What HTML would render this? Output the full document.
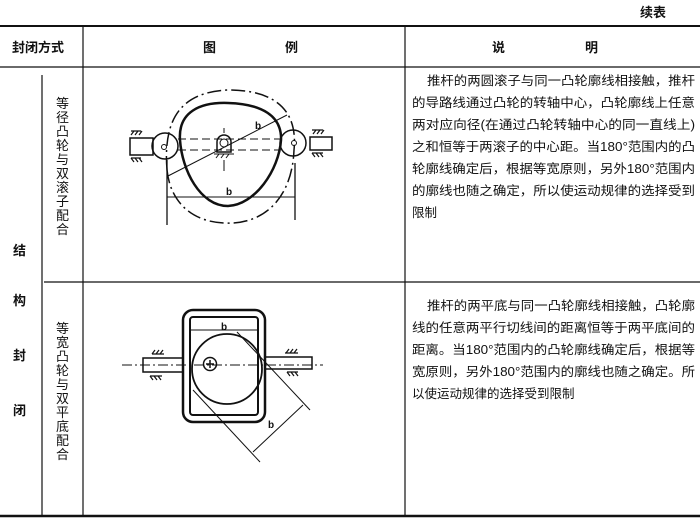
<!DOCTYPE html>
<html><head><meta charset="utf-8"><style>
html,body{margin:0;padding:0;background:#fff;}
svg{display:block;}
text{font-family:"Liberation Sans","Noto Sans CJK SC",sans-serif;fill:#111;}
</style></head><body>
<svg width="700" height="519" viewBox="0 0 700 519" xmlns="http://www.w3.org/2000/svg">
<!-- table -->
<g stroke="#111" fill="none">
<line x1="0" y1="26" x2="700" y2="26" stroke-width="2"/>
<line x1="0" y1="67" x2="700" y2="67" stroke-width="1.3"/>
<line x1="44" y1="282" x2="700" y2="282" stroke-width="1.3"/>
<line x1="0" y1="516" x2="700" y2="516" stroke-width="2.5"/>
<line x1="83" y1="27" x2="83" y2="515" stroke-width="1.2"/>
<line x1="405" y1="27" x2="405" y2="515" stroke-width="1.2"/>
<line x1="42" y1="75" x2="42" y2="515" stroke-width="1.2"/>
</g>
<text x="640" y="17" font-size="13" font-weight="bold">续表</text>
<text x="12" y="52" font-size="13" font-weight="bold" textLength="52">封闭方式</text>
<text x="203" y="52" font-size="13" font-weight="bold">图</text>
<text x="285" y="52" font-size="13" font-weight="bold">例</text>
<text x="492" y="52" font-size="13" font-weight="bold">说</text>
<text x="585" y="52" font-size="13" font-weight="bold">明</text>
<g font-size="13" font-weight="bold">
<text x="13" y="255">结</text><text x="13" y="305">构</text><text x="13" y="360">封</text><text x="13" y="415">闭</text>
</g>
<g font-size="13">
<text x="56" y="108">等</text><text x="56" y="122">径</text><text x="56" y="136">凸</text><text x="56" y="150">轮</text><text x="56" y="164">与</text><text x="56" y="178">双</text><text x="56" y="192">滚</text><text x="56" y="206">子</text><text x="56" y="220">配</text><text x="56" y="234">合</text>
<text x="56" y="333">等</text><text x="56" y="347">宽</text><text x="56" y="361">凸</text><text x="56" y="375">轮</text><text x="56" y="389">与</text><text x="56" y="403">双</text><text x="56" y="417">平</text><text x="56" y="431">底</text><text x="56" y="445">配</text><text x="56" y="459">合</text>
</g>
<g font-size="12.5">
<text x="427" y="85" textLength="268" lengthAdjust="spacingAndGlyphs">推杆的两圆滚子与同一凸轮廓线相接触，推杆</text>
<text x="412" y="107" textLength="283" lengthAdjust="spacingAndGlyphs">的导路线通过凸轮的转轴中心，凸轮廓线上任意</text>
<text x="412" y="129" textLength="283" lengthAdjust="spacingAndGlyphs">两对应向径(在通过凸轮转轴中心的同一直线上)</text>
<text x="412" y="151" textLength="283" lengthAdjust="spacingAndGlyphs">之和恒等于两滚子的中心距。当180°范围内的凸</text>
<text x="412" y="173" textLength="283" lengthAdjust="spacingAndGlyphs">轮廓线确定后，根据等宽原则，另外180°范围内</text>
<text x="412" y="195" textLength="283" lengthAdjust="spacingAndGlyphs">的廓线也随之确定，所以使运动规律的选择受到</text>
<text x="412" y="217">限制</text>
<text x="427" y="310" textLength="268" lengthAdjust="spacingAndGlyphs">推杆的两平底与同一凸轮廓线相接触，凸轮廓</text>
<text x="412" y="332" textLength="283" lengthAdjust="spacingAndGlyphs">线的任意两平行切线间的距离恒等于两平底间的</text>
<text x="412" y="354" textLength="283" lengthAdjust="spacingAndGlyphs">距离。当180°范围内的凸轮廓线确定后，根据等</text>
<text x="412" y="376" textLength="283" lengthAdjust="spacingAndGlyphs">宽原则，另外180°范围内的廓线也随之确定。所</text>
<text x="412" y="398">以使运动规律的选择受到限制</text>
</g>
<!-- diagram 1 -->
<g stroke="#111" fill="none">
<path d="M167,170 C163,120 180,92 228,90 C275,90 298,110 294,150 C292,200 262,225 225,223 C190,222 170,200 167,170" stroke-width="1.5" stroke-dasharray="14,4,2,4"/>
<path d="M180,140 C178,112 200,102 228,103 C262,104 282,116 281,140 C279,170 255,205 228,206 C200,206 182,170 180,140 Z" stroke-width="2.5"/>
<circle cx="165" cy="146" r="13" stroke-width="1.5"/>
<circle cx="164" cy="147" r="2.5"/>
<circle cx="293" cy="143" r="13" stroke-width="1.5"/>
<circle cx="294" cy="143" r="2.5"/>
<rect x="130" y="138" width="23" height="17" stroke-width="1.5"/>
<rect x="310" y="137" width="22" height="13" stroke-width="1.5"/>
<path d="M131,131 h10 M131,135 l3,-4 M135,135 l3,-4 M139,135 l3,-4 M131,158 h10 M131,158 l3,4 M135,158 l3,4 M139,158 l3,4" stroke-width="1.2"/>
<path d="M312,130 h11 M313,134 l3,-4 M317,134 l3,-4 M321,134 l3,-4 M312,153 h11 M312,153 l3,4 M316,153 l3,4 M320,153 l3,4" stroke-width="1.2"/>
<line x1="178" y1="139" x2="280" y2="139" stroke-dasharray="8,4"/>
<line x1="178" y1="150" x2="280" y2="150" stroke-dasharray="8,4"/>
<path d="M217,152 v-10 a7,7 0 0 1 14,0 v10 z" stroke-width="1.5"/>
<circle cx="224" cy="143" r="4"/>
<path d="M214,154 h20 M216,158 l3,-4 M221,158 l3,-4 M226,158 l3,-4" stroke-width="1"/>
<line x1="224" y1="128" x2="224" y2="133"/>
<line x1="224" y1="160" x2="224" y2="171"/>
<line x1="167" y1="160" x2="167" y2="225" stroke-width="1.3"/>
<line x1="295" y1="163" x2="295" y2="220" stroke-width="1.3"/>
<line x1="167" y1="197" x2="295" y2="197"/>
<line x1="168" y1="176" x2="287" y2="115"/>
</g>
<text x="226" y="195" font-size="10" font-weight="bold">b</text>
<text x="255" y="129" font-size="10" font-weight="bold">b</text>
<!-- diagram 2 -->
<g stroke="#111" fill="none">
<rect x="183" y="310" width="82" height="112" rx="10" stroke-width="2.5"/>
<rect x="190" y="317" width="68" height="98" rx="3" stroke-width="2"/>
<circle cx="227" cy="369" r="35" stroke-width="1.8"/>
<circle cx="210" cy="364" r="6.5" stroke-width="1.5"/>
<path d="M206,364 h8 M210,360 v8" stroke-width="1.5"/>
<rect x="143" y="358" width="40" height="14" stroke-width="1.5"/>
<rect x="265" y="357" width="47" height="12" stroke-width="1.5"/>
<line x1="122" y1="365" x2="323" y2="365" stroke-dasharray="10,3,2,3"/>
<path d="M152,354 h12 M152,354 l3,-4 M156,354 l3,-4 M160,354 l3,-4 M150,376 h12 M150,376 l3,4 M154,376 l3,4 M158,376 l3,4" stroke-width="1.2"/>
<path d="M285,353 h13 M286,353 l3,-4 M290,353 l3,-4 M294,353 l3,-4 M287,372 h11 M287,372 l3,4 M291,372 l3,4 M295,372 l3,4" stroke-width="1.2"/>
<line x1="190" y1="330" x2="258" y2="330"/>
<line x1="237" y1="332" x2="310" y2="410"/>
<line x1="193" y1="390" x2="260" y2="462"/>
<line x1="253" y1="452" x2="303" y2="405"/>
</g>
<text x="221" y="330" font-size="10" font-weight="bold">b</text>
<text x="268" y="428" font-size="10" font-weight="bold">b</text>
</svg>
</body></html>
